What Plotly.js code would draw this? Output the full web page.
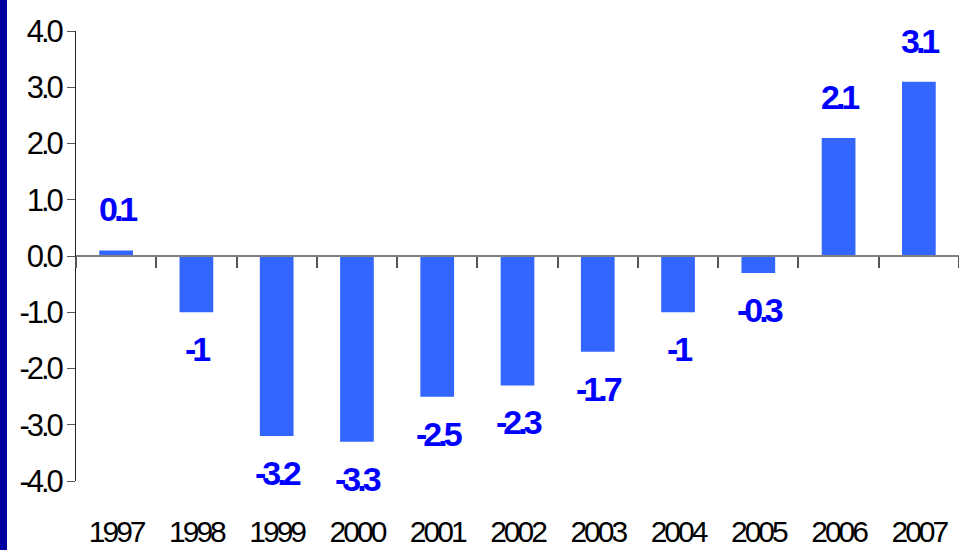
<!DOCTYPE html>
<html>
<head>
<meta charset="utf-8">
<script src="https://cdn.plot.ly/plotly-3.0.1.min.js"></script>
<style>
  html, body { margin: 0; padding: 0; background: #ffffff; }
  #wrap { position: relative; width: 959px; height: 550px; overflow: hidden; }
  #strip { position: absolute; left: 0; top: 0; width: 7px; height: 550px; background: #0000A0; z-index: 10; }
  #chart { position: absolute; left: 0; top: 0; width: 959px; height: 550px; }
  g.ytick text, g.x2tick text { letter-spacing: -3px; }
  g.annotation text { letter-spacing: -4px; }
</style>
</head>
<body>
<div id="wrap">
  <div id="chart"></div>
  <div id="strip"></div>
</div>
<script>
// Data
const years = ['1997','1998','1999','2000','2001','2002','2003','2004','2005','2006','2007'];
const values = [0.1, -1, -3.2, -3.3, -2.5, -2.3, -1.7, -1, -0.3, 2.1, 3.1];
const valueLabels = ['0.1','-1','-3.2','-3.3','-2.5','-2.3','-1.7','-1','-0.3','2.1','3.1'];
const yTickVals = [-4, -3, -2, -1, 0, 1, 2, 3, 4];
const yTickText = yTickVals.map(v => v.toFixed(1));

const font = 'Liberation Sans, Arial, sans-serif';

const bars = {
  type: 'bar',
  x: years,
  y: values,
  xaxis: 'x',
  yaxis: 'y',
  marker: { color: '#3366FF', line: { width: 0 } },
  hoverinfo: 'x+y'
};

const labelCarrier = {
  type: 'scatter',
  mode: 'markers',
  x: years,
  y: values,
  xaxis: 'x2',
  yaxis: 'y',
  marker: { opacity: 0, size: 1 },
  hoverinfo: 'skip',
  showlegend: false
};

const annotations = years.map((yr, i) => ({
  x: i,
  y: values[i],
  xref: 'x',
  yref: 'y',
  text: '<b>' + valueLabels[i] + '</b>',
  showarrow: false,
  xanchor: 'center',
  yanchor: 'middle',
  yshift: values[i] >= 0 ? 41 : -37,
  font: { family: font, size: 34, color: '#0000FF' }
}));

const layout = {
  width: 959,
  height: 550,
  margin: { l: 76, r: 0, t: 31, b: 69, pad: 0 },
  paper_bgcolor: '#ffffff',
  plot_bgcolor: '#ffffff',
  showlegend: false,
  bargap: 0.58,
  xaxis: {
    type: 'category',
    categoryorder: 'array',
    categoryarray: years,
    range: [-0.5, years.length - 0.5],
    anchor: 'free',
    position: 0.5,
    showline: true,
    linecolor: '#808080',
    linewidth: 2,
    ticks: 'outside',
    tickson: 'boundaries',
    ticklen: 11,
    tickcolor: '#555555',
    tickwidth: 2,
    showticklabels: false,
    showgrid: false,
    zeroline: false,
    fixedrange: true
  },
  xaxis2: {
    type: 'category',
    categoryorder: 'array',
    categoryarray: years,
    range: [-0.5, years.length - 0.5],
    overlaying: 'x',
    anchor: 'y',
    side: 'bottom',
    showline: false,
    ticks: '',
    showgrid: false,
    zeroline: false,
    ticklabelstandoff: 30,
    tickfont: { family: font, size: 30, color: '#000000' },
    fixedrange: true
  },
  yaxis: {
    range: [-4, 4],
    tickvals: yTickVals,
    ticktext: yTickText,
    showline: true,
    linecolor: '#222222',
    linewidth: 1,
    ticks: 'outside',
    ticklen: 8,
    tickcolor: '#555555',
    tickwidth: 1,
    showgrid: false,
    zeroline: false,
    tickfont: { family: font, size: 31, color: '#000000' },
    fixedrange: true
  },
  annotations: annotations
};

Plotly.newPlot('chart', [bars, labelCarrier], layout, { displayModeBar: false, staticPlot: true });
</script>
</body>
</html>
